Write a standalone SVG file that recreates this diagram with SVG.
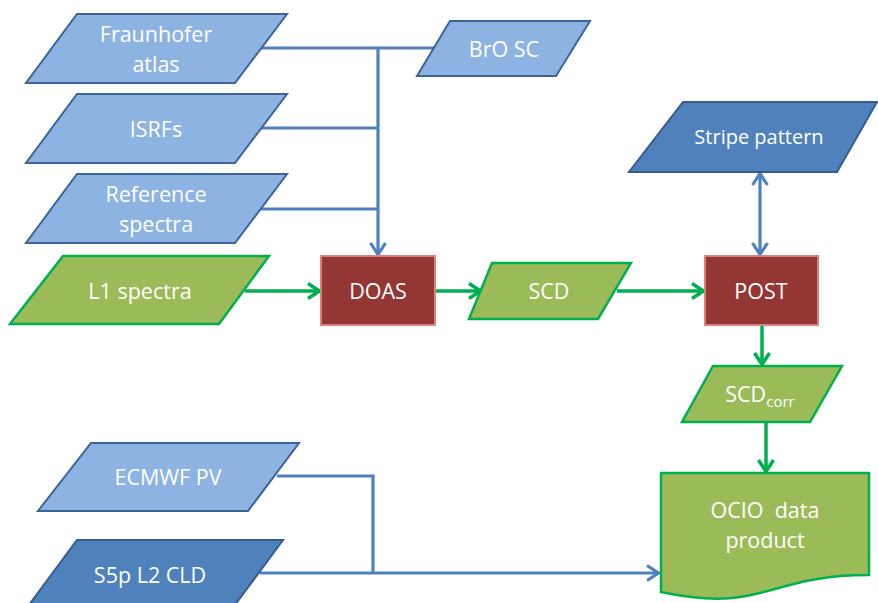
<svg xmlns="http://www.w3.org/2000/svg" width="878" height="603" viewBox="0 0 878 603">
<style>
.lb{fill:#8db3e2;stroke:#3c6496;stroke-width:2}
.db{fill:#4f81bd;stroke:#385d8a;stroke-width:2}
.gr{fill:#9bbb59;stroke:#00b050;stroke-width:2.5}
.rd{fill:#943634;stroke:#d9827f;stroke-width:2}
text{font-family:"Open Sans","Liberation Sans",sans-serif;font-size:21.5px;fill:#fff;text-anchor:middle}
.cb{fill:none;stroke:#4f81bd;stroke-width:3.2}
.cg{fill:none;stroke:#00b050;stroke-width:3.5}
</style>
<defs>
<marker id="ab" viewBox="0 0 15 18" refX="13.5" refY="9" markerWidth="15" markerHeight="18" markerUnits="userSpaceOnUse" orient="auto-start-reverse">
<path d="M1.5,1.5 L13,9 L1.5,16.5" fill="none" stroke="#4f81bd" stroke-width="3.2"/>
</marker>
<marker id="ag" viewBox="0 0 15 18" refX="13.5" refY="9" markerWidth="15" markerHeight="18" markerUnits="userSpaceOnUse" orient="auto">
<path d="M1.5,1.5 L13,9 L1.5,16.5" fill="none" stroke="#00b050" stroke-width="3.5"/>
</marker>
</defs>
<g id="connectors">
<path class="cb" d="M261,48 H435"/>
<path class="cb" d="M378,48 V255" marker-end="url(#ab)"/>
<path class="cb" d="M261,128 H378"/>
<path class="cb" d="M261,209 H378"/>
<path class="cb" d="M760,173 V255" marker-start="url(#ab)" marker-end="url(#ab)"/>
<path class="cb" d="M277,476 H373 V573"/>
<path class="cb" d="M260,573 H659" marker-end="url(#ab)"/>
<path class="cg" d="M245,291 H320" marker-end="url(#ag)"/>
<path class="cg" d="M435,291 H481" marker-end="url(#ag)"/>
<path class="cg" d="M617,291 H704" marker-end="url(#ag)"/>
<path class="cg" d="M762,325 V365" marker-end="url(#ag)"/>
<path class="cg" d="M766,422 V472" marker-end="url(#ag)"/>
</g>
<g id="fraunhofer">
<polygon class="lb" points="77,14 287,14 235,83 26,83"/>
<text x="156" y="42">Fraunhofer</text>
<text x="156" y="72">atlas</text>
</g>
<g id="isrfs">
<polygon class="lb" points="77,94 287,94 235,163 26,163"/>
<text x="156" y="137">ISRFs</text>
</g>
<g id="reference">
<polygon class="lb" points="77,174 287,174 235,243 26,243"/>
<text x="156" y="202">Reference</text>
<text x="156" y="232">spectra</text>
</g>
<g id="bro">
<polygon class="lb" points="450,21 590,21 556,76 417,76"/>
<text x="504" y="57">BrO SC</text>
</g>
<g id="stripe">
<polygon class="db" points="683,102 877,102 837,172 629,172"/>
<text x="759" y="144" style="font-size:20px">Stripe pattern</text>
</g>
<g id="l1">
<polygon class="gr" points="63,256 269,256 219,324 10,324"/>
<text x="140" y="299">L1 spectra</text>
</g>
<g id="doas">
<rect class="rd" x="321" y="256" width="114" height="69"/>
<text x="378" y="299">DOAS</text>
</g>
<g id="scd">
<polygon class="gr" points="492,263 631,263 598,319 469,319"/>
<text x="549" y="299">SCD</text>
</g>
<g id="post">
<rect class="rd" x="705" y="256" width="113" height="69"/>
<text x="761" y="299">POST</text>
</g>
<g id="scdcorr">
<polygon class="gr" points="713,366 842,366 810,422 682,422"/>
<text x="760" y="402">SCD<tspan font-size="15" dy="5">corr</tspan></text>
</g>
<g id="ocio">
<path class="gr" d="M661,473 H869 V575 C765,575 765,614 661,592 Z"/>
<text x="765" y="518" style="white-space:pre">OCIO  data</text>
<text x="765" y="548">product</text>
</g>
<g id="ecmwf">
<polygon class="lb" points="91,443 299,443 248,511 38,511"/>
<text x="168" y="485">ECMWF PV</text>
</g>
<g id="s5p">
<polygon class="db" points="77,540 283,540 232,609 26,609"/>
<text x="150" y="583">S5p L2 CLD</text>
</g>
</svg>
